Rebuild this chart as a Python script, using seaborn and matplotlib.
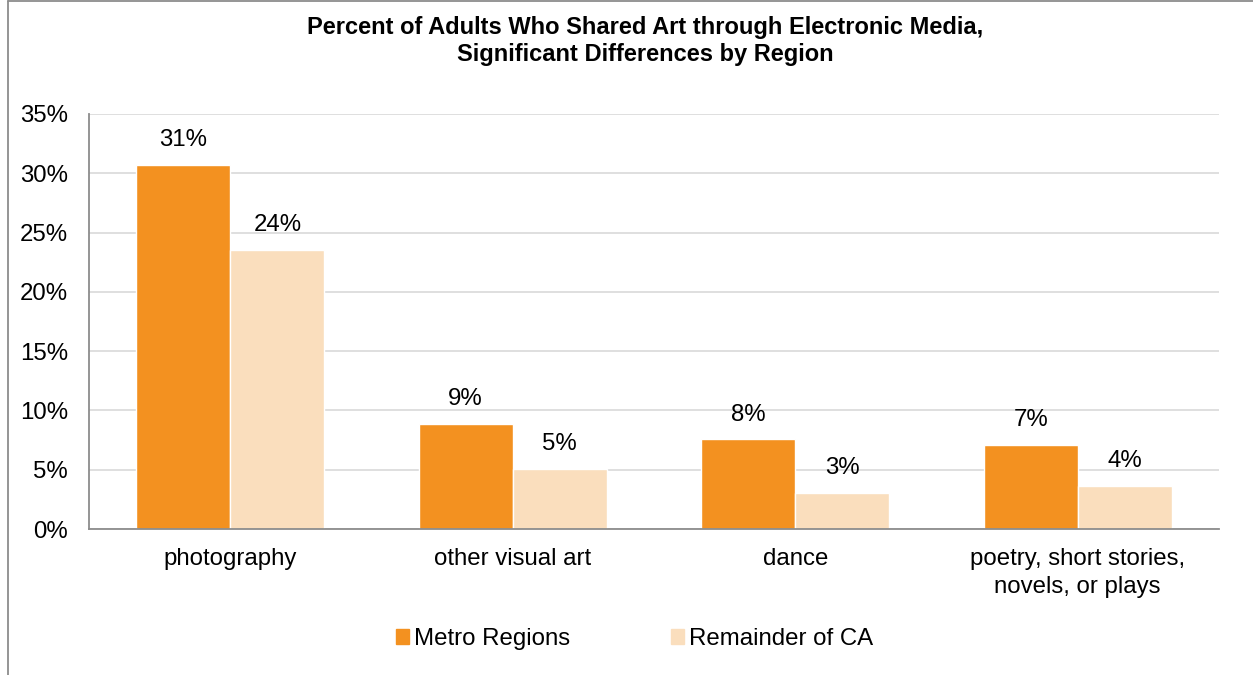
import matplotlib
matplotlib.use("Agg")
import matplotlib.pyplot as plt
from matplotlib.lines import Line2D
import seaborn as sns
import pandas as pd

# Survey shares (percent of adults)
categories = ["photography", "other visual art", "dance",
              "poetry, short stories,\nnovels, or plays"]
metro = [30.7, 8.85, 7.55, 7.08]
remainder = [23.5, 5.03, 3.04, 3.6]
series_names = ["Metro Regions", "Remainder of CA"]
y_ticks = [0, 5, 10, 15, 20, 25, 30, 35]

df = pd.DataFrame({
    "category": categories * 2,
    "value": metro + remainder,
    "region": [series_names[0]] * len(categories) + [series_names[1]] * len(categories),
})

sns.set_theme(style="white")
plt.rcParams["font.family"] = ["Liberation Sans", "DejaVu Sans"]
plt.rcParams["text.color"] = "#000000"
plt.rcParams["xtick.color"] = "#000000"
plt.rcParams["ytick.color"] = "#000000"

FS = 17.3

fig = plt.figure(figsize=(12.53, 6.75), dpi=100)
ax = fig.add_axes([89 / 1253, 1 - 529 / 675, (1219 - 89) / 1253, (529 - 114) / 675])

palette = {"Metro Regions": "#F39120", "Remainder of CA": "#FADEBD"}
sns.barplot(data=df, x="category", y="value", hue="region", order=categories,
            hue_order=series_names, palette=palette, width=0.667, saturation=1,
            ax=ax, legend=False, zorder=3)

for cont in ax.containers:
    ax.bar_label(cont, fmt=lambda v: f"{v:.0f}%", padding=10, fontsize=FS, color="#000000")

ax.set_ylim(0, 35)
ax.set_xlim(-0.5, len(categories) - 0.5)
ax.set_yticks(y_ticks)
ax.set_yticklabels([f"{t}%" for t in y_ticks], fontsize=FS)
ax.tick_params(axis="y", length=0, pad=15)
ax.tick_params(axis="x", length=0, pad=14, labelsize=FS)
for lbl in ax.get_xticklabels():
    lbl.set_linespacing(1.3)
ax.set_xlabel("")
ax.set_ylabel("")
ax.yaxis.grid(True, color="#D9D9D9", linewidth=1.2, zorder=0)
ax.set_axisbelow(True)
for side in ["top", "right"]:
    ax.spines[side].set_visible(False)
for side in ["left", "bottom"]:
    ax.spines[side].set_color("#8C8C8C")
    ax.spines[side].set_linewidth(1.3)
    ax.spines[side].set_zorder(4)

fig.suptitle("Percent of Adults Who Shared Art through Electronic Media,\n"
             "Significant Differences by Region",
             x=645 / 1253, y=1 - 16 / 675, va="top", fontsize=17, fontweight="bold",
             linespacing=1.2)

handles = [plt.Rectangle((0, 0), 1, 1, color=palette[n]) for n in series_names]
fig.legend(handles, series_names, loc="center", bbox_to_anchor=(634.5 / 1253, 1 - 639 / 675),
           ncol=2, frameon=False, fontsize=FS, handlelength=0.55, handleheight=0.55,
           handletextpad=0.2, columnspacing=4.2)

# Chart frame
fig.add_artist(Line2D([7.5 / 1253, 7.5 / 1253], [0, 1 - 1 / 675], color="#8C8C8C", linewidth=1.3,
                      transform=fig.transFigure))
fig.add_artist(Line2D([7.5 / 1253, 1], [1 - 1 / 675, 1 - 1 / 675], color="#8C8C8C", linewidth=1.3,
                      transform=fig.transFigure))

fig.savefig("out.png", dpi=100)
